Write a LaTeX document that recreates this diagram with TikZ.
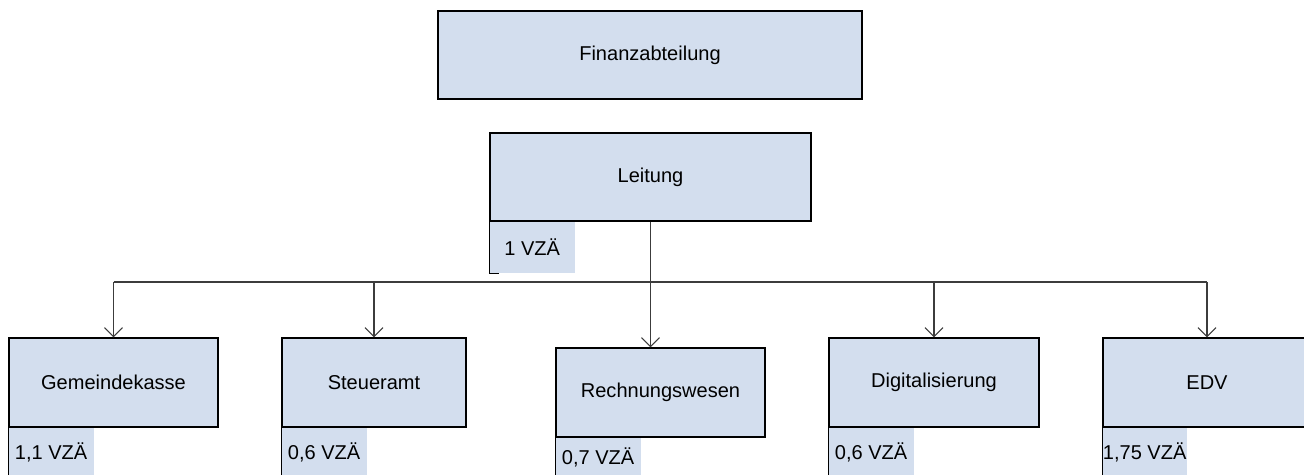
\documentclass[tikz,border=0pt]{standalone}
\usepackage{fontspec}
\setmainfont{Liberation Sans}
\usetikzlibrary{arrows.meta}

\definecolor{boxblue}{RGB}{211,222,238}
\definecolor{linegray}{RGB}{60,60,60}

\tikzset{
  unit/.style={draw=black, line width=0.8pt, fill=boxblue, inner sep=0pt,
    minimum height=1.78cm, font=\fontsize{11.4pt}{13pt}\selectfont},
  vzbox/.style={fill=boxblue, inner sep=0pt, anchor=north west,
    minimum width=1.7cm, font=\fontsize{11.4pt}{13pt}\selectfont},
  vzline/.style={draw=black, line width=0.8pt},
  link/.style={draw=linegray, line width=0.6pt},
}

\begin{document}
\begin{tikzpicture}[x=0.02cm,y=-0.02cm,>={Straight Barb[length=0.18cm,width=0.36cm]}]
\useasboundingbox (0,0) rectangle (1304,474);

% top
\node[unit, minimum width=8.48cm, minimum height=1.76cm] (fin) at (650,55) {Finanzabteilung};
\node[unit, minimum width=6.42cm, minimum height=1.76cm] (leit) at (650.5,177) {Leitung};
\node[vzbox, minimum height=1.02cm] (leitvz) at (leit.south west) {1 VZÄ};
\draw[vzline] (leitvz.north west) -- (leitvz.south west) -- ++(10,0);

% sections
\node[unit, minimum width=4.18cm] (gem) at (113.5,382.5) {Gemeindekasse};
\node[unit, minimum width=3.68cm] (steu) at (374,382.5) {Steueramt};
\node[unit, minimum width=4.18cm] (rech) at (660.5,392.5) {Rechnungswesen};
\node[unit, minimum width=4.2cm] (dig) at (934,382.5) {Digitalisierung};
\node[unit, minimum width=4.16cm] (edv) at (1207,382.5) {EDV};

\node[vzbox, minimum height=0.96cm] (gemvz) at (gem.south west) {1,1 VZÄ};
\node[vzbox, minimum height=0.96cm] (steuvz) at (steu.south west) {0,6 VZÄ};
\node[vzbox, minimum height=0.76cm] (rechvz) at (rech.south west) {0,7 VZÄ};
\node[vzbox, minimum height=0.96cm] (digvz) at (dig.south west) {0,6 VZÄ};
\node[vzbox, minimum height=0.96cm, minimum width=1.68cm] (edvvz) at (edv.south west) {1,75 VZÄ};
\foreach \v in {gemvz,steuvz,rechvz,digvz,edvvz}
  \draw[vzline] (\v.north west) -- (\v.south west);

% connectors
\coordinate (bus) at (650,282);
\draw[link, ->] (leit.south) -- (leit.south |- rech.north);
\draw[link] (gem.north |- bus) -- (edv.north |- bus);
\foreach \n in {gem,steu,dig,edv}
  \draw[link, ->] (\n.north |- bus) -- (\n.north);
\end{tikzpicture}
\end{document}
